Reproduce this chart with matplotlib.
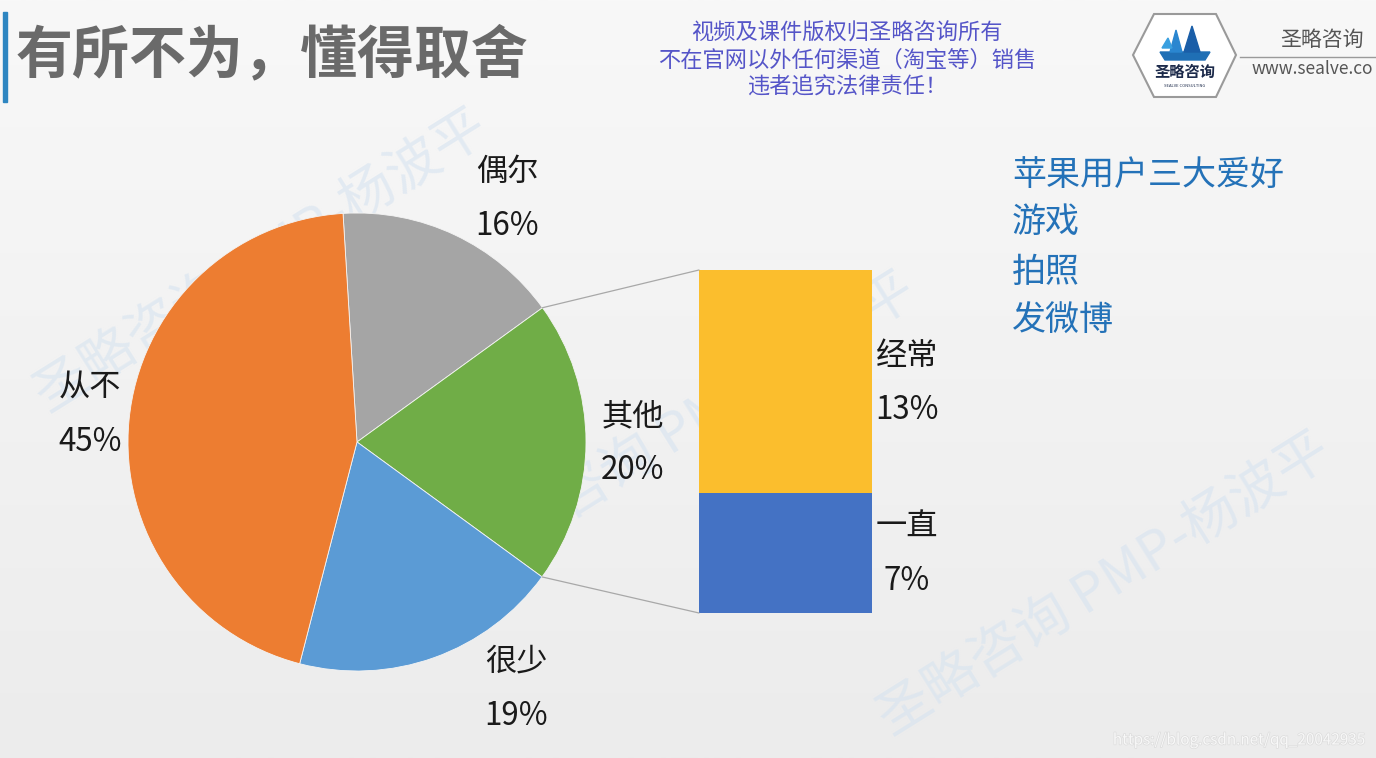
import numpy as np
import matplotlib
matplotlib.use("Agg")
import matplotlib.pyplot as plt
from matplotlib.patches import Polygon, Rectangle, ConnectionPatch
from matplotlib.colors import LinearSegmentedColormap
import matplotlib.patheffects as pe

plt.rcParams['font.family'] = ['Noto Sans CJK SC', 'DejaVu Sans']

# ---------------- data ----------------
title = "有所不为，懂得取舍"
pie_labels = ["偶尔", "其他", "很少", "从不"]
main_values = {"偶尔": 16, "很少": 19, "从不": 45}
bar_labels = ["一直", "经常"]          # bottom to top
bar_values = [7, 13]
other_value = sum(bar_values)
pie_values = [main_values.get(l, other_value) for l in pie_labels]
pie_colors = ["#A5A5A5", "#70AD47", "#5B9BD5", "#ED7D31"]
bar_colors = ["#4472C4", "#FBBE2D"]
side_lines = ["苹果用户三大爱好", "游戏", "拍照", "发微博"]
notice_lines = ["视频及课件版权归圣略咨询所有", "不在官网以外任何渠道（淘宝等）销售", "违者追究法律责任！"]
watermark = "圣略咨询 PMP-杨波平"

W, H = 1376, 758
fig = plt.figure(figsize=(W / 100, H / 100), dpi=100)

# ---------------- background ----------------
bg = fig.add_axes([0, 0, 1, 1])
bg.set_xlim(0, W)
bg.set_ylim(H, 0)
bg.axis("off")
grad = np.linspace(0, 1, 256).reshape(-1, 1)
cmap = LinearSegmentedColormap.from_list("bgc", ["#f8f8f8", "#f2f2f2", "#ececec"])
bg.imshow(grad, cmap=cmap, extent=[0, W, H, 0], aspect="auto", zorder=0)

# watermarks
for (wx, wy) in [(262, 262), (1105, 585), (690, 425)]:
    bg.text(wx, wy, watermark, rotation=32, fontsize=39, color="#d6e3f0",
            ha="center", va="center", zorder=1, alpha=0.6)

# title
bg.add_patch(Rectangle((3, 12), 4, 90, color="#2E86C1", zorder=2))
bg.text(16, 55, title, fontsize=41, fontweight="bold", color="#6a6a6a",
        ha="left", va="center", zorder=3)

# notice
for i, s in enumerate(notice_lines):
    bg.text(847, 33 + 27 * i, s, fontsize=16, color="#5555c8",
            ha="center", va="center", zorder=3)

# logo
hexv = [(1133, 55), (1154, 14), (1216, 14), (1236, 55), (1216, 97), (1154, 97)]
bg.add_patch(Polygon(hexv, closed=True, facecolor="#ffffff", edgecolor="#9a9a9a",
                     lw=1.5, zorder=3))
bg.add_patch(Polygon([(1160, 52), (1210, 52), (1205, 60), (1165, 60)], closed=True,
                     color="#1f6fb5", zorder=4))
bg.add_patch(Polygon([(1170, 52), (1176, 30), (1182, 52)], closed=True, color="#2a86d0", zorder=4))
bg.add_patch(Polygon([(1184, 52), (1192, 26), (1200, 52)], closed=True, color="#1a5ea8", zorder=4))
bg.add_patch(Polygon([(1162, 48), (1168, 38), (1172, 48)], closed=True, color="#3aa0e0", zorder=4))
bg.text(1185, 72, "圣略咨询", fontsize=11, fontweight="bold", color="#1c2a4a",
        ha="center", va="center", zorder=4)
bg.text(1185, 86, "SEALVE CONSULTING", fontsize=3, color="#1c2a4a",
        ha="center", va="center", zorder=4)
bg.text(1322, 40, "圣略咨询", fontsize=15, color="#555555", ha="center", va="center", zorder=3)
bg.plot([1240, W], [57, 57], color="#9a9a9a", lw=1, zorder=3)
bg.text(1373, 69, "www.sealve.co", fontsize=12.5, color="#555555", ha="right",
        va="center", zorder=3)

# side list
for s, y in zip(side_lines, [175, 222, 272, 321]):
    bg.text(1012, y, s, fontsize=24.5, color="#2472B8", ha="left", va="center", zorder=3)

# csdn watermark
bg.text(1365, 740, "https://blog.csdn.net/qq_20042935", fontsize=11, color="#f8f8f8",
        ha="right", va="center", zorder=3,
        path_effects=[pe.withStroke(linewidth=1.0, foreground="#dcdcdc")])

# ---------------- pie ----------------
cx, cy, r = 357, 442, 229
ax_pie = fig.add_axes([(cx - r) / W, (H - cy - r) / H, 2 * r / W, 2 * r / H])
ax_pie.patch.set_alpha(0)
start = 93.5
wedges, _ = ax_pie.pie(pie_values, colors=pie_colors, startangle=start,
                       counterclock=False, radius=1,
                       wedgeprops=dict(linewidth=0.6, edgecolor="#f4f4f4"))
ax_pie.set_xlim(-1, 1)
ax_pie.set_ylim(-1, 1)
ax_pie.axis("off")

# ---------------- bar ----------------
bx0, bx1, by0, by1 = 699, 872, 270, 613
ax_bar = fig.add_axes([bx0 / W, (H - by1) / H, (bx1 - bx0) / W, (by1 - by0) / H])
ax_bar.patch.set_alpha(0)
bottom = 0
for v, c in zip(bar_values, bar_colors):
    ax_bar.bar(0, v, width=1, bottom=bottom, color=c, linewidth=0)
    bottom += v
ax_bar.set_xlim(-0.5, 0.5)
ax_bar.set_ylim(0, other_value)
ax_bar.axis("off")

# connectors from the "其他" wedge
idx = pie_labels.index("其他")
a_top = start - 360 * sum(pie_values[:idx]) / 100
a_bot = a_top - 360 * pie_values[idx] / 100
for ang, yb in [(a_top, other_value), (a_bot, 0)]:
    p = (np.cos(np.radians(ang)), np.sin(np.radians(ang)))
    con = ConnectionPatch(xyA=p, coordsA=ax_pie.transData, xyB=(-0.5, yb),
                          coordsB=ax_bar.transData, color="#a8a8a8", lw=0.9)
    fig.add_artist(con)

# ---------------- labels ----------------
pie_label_pos = {"偶尔": (507, 172), "其他": (633, 416), "很少": (516, 662), "从不": (90, 388)}
for l, v in zip(pie_labels, pie_values):
    x, y = pie_label_pos[l]
    bg.text(x, y, l, fontsize=22.5, color="#1a1a1a", ha="center", va="center", zorder=3)
    bg.text(x, y + 54, f"{v}%", fontsize=22.5, color="#1a1a1a", ha="center", va="center", zorder=3)
bar_label_pos = {"经常": (907, 356), "一直": (907, 527)}
for l, v in zip(bar_labels, bar_values):
    x, y = bar_label_pos[l]
    bg.text(x, y, l, fontsize=22.5, color="#1a1a1a", ha="center", va="center", zorder=3)
    bg.text(x, y + 54, f"{v}%", fontsize=22.5, color="#1a1a1a", ha="center", va="center", zorder=3)

fig.savefig("out.png", dpi=100)
